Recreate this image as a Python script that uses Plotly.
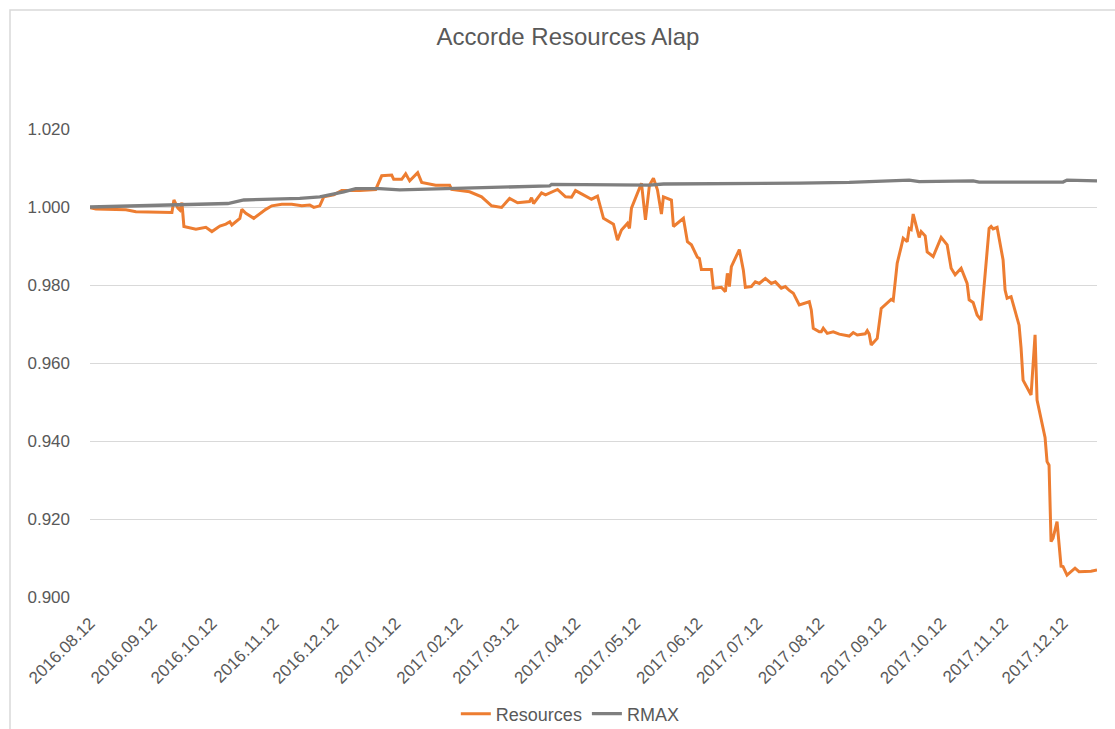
import plotly.graph_objects as go

# ---- data ----
res_dates = [
    "2016-08-12", "2016-08-15", "2016-08-30", "2016-09-04", "2016-09-22", "2016-09-23",
    "2016-09-25", "2016-09-26", "2016-09-27", "2016-09-28", "2016-10-04", "2016-10-09",
    "2016-10-12", "2016-10-16", "2016-10-19", "2016-10-21", "2016-10-22", "2016-10-26",
    "2016-10-27", "2016-10-29", "2016-11-02", "2016-11-08", "2016-11-11", "2016-11-16",
    "2016-11-21", "2016-11-26", "2016-11-30", "2016-12-02", "2016-12-05", "2016-12-07",
    "2016-12-12", "2016-12-16", "2016-12-25", "2017-01-02", "2017-01-05", "2017-01-10",
    "2017-01-11", "2017-01-15", "2017-01-17", "2017-01-19", "2017-01-23", "2017-01-25",
    "2017-02-01", "2017-02-08", "2017-02-09", "2017-02-18", "2017-02-24", "2017-03-01",
    "2017-03-06", "2017-03-10", "2017-03-14", "2017-03-20", "2017-03-21", "2017-03-22",
    "2017-03-26", "2017-03-28", "2017-04-03", "2017-04-07", "2017-04-10", "2017-04-12",
    "2017-04-20", "2017-04-23", "2017-04-26", "2017-05-01", "2017-05-03", "2017-05-05",
    "2017-05-08", "2017-05-09", "2017-05-10", "2017-05-15", "2017-05-17", "2017-05-19",
    "2017-05-21", "2017-05-23", "2017-05-25", "2017-05-26", "2017-05-30", "2017-05-31",
    "2017-06-05", "2017-06-07", "2017-06-09", "2017-06-12", "2017-06-13", "2017-06-14",
    "2017-06-19", "2017-06-20", "2017-06-24", "2017-06-26", "2017-06-27", "2017-06-28",
    "2017-06-29", "2017-07-03", "2017-07-05", "2017-07-06", "2017-07-09", "2017-07-11",
    "2017-07-13", "2017-07-16", "2017-07-19", "2017-07-21", "2017-07-24", "2017-07-26",
    "2017-07-28", "2017-07-30", "2017-08-02", "2017-08-07", "2017-08-08", "2017-08-09",
    "2017-08-12", "2017-08-13", "2017-08-14", "2017-08-16", "2017-08-19", "2017-08-22",
    "2017-08-27", "2017-08-29", "2017-08-31", "2017-09-04", "2017-09-05", "2017-09-06",
    "2017-09-07", "2017-09-10", "2017-09-12", "2017-09-14", "2017-09-17", "2017-09-18",
    "2017-09-19", "2017-09-20", "2017-09-22", "2017-09-23", "2017-09-25", "2017-09-26",
    "2017-09-27", "2017-09-28", "2017-10-01", "2017-10-02", "2017-10-04", "2017-10-05",
    "2017-10-08", "2017-10-12", "2017-10-15", "2017-10-17", "2017-10-19", "2017-10-22",
    "2017-10-25", "2017-10-26", "2017-10-28", "2017-10-30", "2017-11-01", "2017-11-05",
    "2017-11-06", "2017-11-07", "2017-11-09", "2017-11-12", "2017-11-13", "2017-11-14",
    "2017-11-16", "2017-11-20", "2017-11-21", "2017-11-22", "2017-11-26", "2017-11-28",
    "2017-11-29", "2017-12-03", "2017-12-04", "2017-12-05", "2017-12-06", "2017-12-07",
    "2017-12-09", "2017-12-11", "2017-12-12", "2017-12-14", "2017-12-18", "2017-12-20",
    "2017-12-26", "2017-12-29",
]
res_values = [
    0.9998, 0.9995, 0.9993, 0.9988, 0.9986, 1.0018,
    0.9997, 0.9992, 1.0011, 0.9950, 0.9943, 0.9948,
    0.9937, 0.9951, 0.9956, 0.9962, 0.9954, 0.9971,
    0.9994, 0.9984, 0.9971, 0.9994, 1.0003, 1.0007,
    1.0007, 1.0003, 1.0005, 0.9999, 1.0003, 1.0026,
    1.0031, 1.0042, 1.0042, 1.0045, 1.0080, 1.0082,
    1.0071, 1.0071, 1.0085, 1.0067, 1.0088, 1.0063,
    1.0056, 1.0056, 1.0045, 1.0039, 1.0026, 1.0003,
    0.9999, 1.0022, 1.0011, 1.0014, 1.0024, 1.0009,
    1.0036, 1.0031, 1.0045, 1.0026, 1.0025, 1.0042,
    1.0020, 1.0028, 0.9971, 0.9956, 0.9915, 0.9941,
    0.9958, 0.9945, 0.9997, 1.0061, 0.9967, 1.0056,
    1.0074, 1.0044, 0.9982, 1.0026, 1.0018, 0.9950,
    0.9971, 0.9911, 0.9903, 0.9871, 0.9868, 0.9840,
    0.9840, 0.9792, 0.9794, 0.9783, 0.9830, 0.9796,
    0.9847, 0.9891, 0.9838, 0.9794, 0.9796, 0.9808,
    0.9804, 0.9817, 0.9804, 0.9808, 0.9792, 0.9796,
    0.9786, 0.9779, 0.9749, 0.9757, 0.9736, 0.9689,
    0.9680, 0.9680, 0.9689, 0.9676, 0.9680, 0.9674,
    0.9669, 0.9678, 0.9672, 0.9675, 0.9683, 0.9674,
    0.9646, 0.9663, 0.9740, 0.9749, 0.9763, 0.9760,
    0.9817, 0.9856, 0.9898, 0.9920, 0.9911, 0.9945,
    0.9942, 0.9982, 0.9922, 0.9937, 0.9926, 0.9885,
    0.9873, 0.9922, 0.9903, 0.9843, 0.9826, 0.9843,
    0.9804, 0.9762, 0.9755, 0.9723, 0.9710, 0.9945,
    0.9950, 0.9944, 0.9948, 0.9864, 0.9787, 0.9766,
    0.9770, 0.9697, 0.9638, 0.9556, 0.9518, 0.9672,
    0.9505, 0.9409, 0.9347, 0.9338, 0.9142, 0.9151,
    0.9193, 0.9079, 0.9078, 0.9056, 0.9074, 0.9065,
    0.9066, 0.9069,
]

rmax_dates = [
    "2016-08-12", "2016-09-04", "2016-10-20", "2016-10-28", "2016-11-25", "2016-12-05",
    "2016-12-10", "2016-12-17", "2016-12-23", "2017-01-04", "2017-01-14", "2017-03-05",
    "2017-03-30", "2017-03-31", "2017-05-19", "2017-05-26", "2017-07-08", "2017-08-02",
    "2017-08-27", "2017-09-11", "2017-09-26", "2017-10-01", "2017-10-28", "2017-10-31",
    "2017-12-12", "2017-12-14", "2017-12-29",
]
rmax_values = [
    1.0000, 1.0003, 1.0009, 1.0018, 1.0022, 1.0026,
    1.0031, 1.0039, 1.0047, 1.0047, 1.0044, 1.0051,
    1.0054, 1.0058, 1.0056, 1.0059, 1.0059, 1.0061,
    1.0063, 1.0067, 1.0069, 1.0065, 1.0067, 1.0064,
    1.0064, 1.0069, 1.0067,
]

tick_dates = [
    "2016-08-12", "2016-09-12", "2016-10-12", "2016-11-12", "2016-12-12",
    "2017-01-12", "2017-02-12", "2017-03-12", "2017-04-12", "2017-05-12",
    "2017-06-12", "2017-07-12", "2017-08-12", "2017-09-12", "2017-10-12",
    "2017-11-12", "2017-12-12",
]
y_ticks = [0.900, 0.920, 0.940, 0.960, 0.980, 1.000, 1.020]

FONT = "Helvetica Neue, Helvetica, Arial, Liberation Sans, sans-serif"
TXT = "#595959"

fig = go.Figure()
fig.add_trace(go.Scatter(x=res_dates, y=res_values, mode="lines", name="Resources",
                         line=dict(color="#ED7D31", width=3)))
fig.add_trace(go.Scatter(x=rmax_dates, y=rmax_values, mode="lines", name="RMAX",
                         line=dict(color="#7F7F7F", width=3.3)))

fig.update_layout(
    width=1115, height=729,
    margin=dict(l=90, r=18, t=129, b=132, autoexpand=False),
    paper_bgcolor="white", plot_bgcolor="white",
    font=dict(family=FONT, color=TXT, size=17),
    title=dict(text="Accorde Resources Alap", x=568/1115, xanchor="center",
               y=1 - 37/729, yanchor="middle", font=dict(size=24, color=TXT)),
    legend=dict(orientation="h", x=0.477, xanchor="center", y=-0.25, yanchor="middle",
                font=dict(size=18, color=TXT), itemwidth=30),
    showlegend=True,
    xaxis=dict(type="date", range=["2016-08-12", "2017-12-29"],
               tickvals=tick_dates, tickformat="%Y.%m.%d", tickangle=-45,
               showgrid=False, zeroline=False, showline=False, ticks="",
               ticklabelstandoff=12,
               tickfont=dict(size=17, color=TXT)),
    yaxis=dict(range=[0.9, 1.02], tickvals=y_ticks, tickformat=".3f",
               showgrid=True, gridcolor="#D9D9D9", gridwidth=1, zeroline=False,
               showline=False, ticks="", ticklabelstandoff=19,
               tickfont=dict(size=17, color=TXT)),
    shapes=[dict(type="rect", xref="paper", yref="paper",
                 x0=(10 - 90) / 1007, x1=(1125 - 90) / 1007,
                 y0=(597 - 740) / 468, y1=(597 - 10) / 468,
                 line=dict(color="#D9D9D9", width=1.5), fillcolor="rgba(0,0,0,0)",
                 layer="below")],
)

fig.write_html("out.html", config={"displayModeBar": False},
               post_script="document.body.style.margin='0px';")
